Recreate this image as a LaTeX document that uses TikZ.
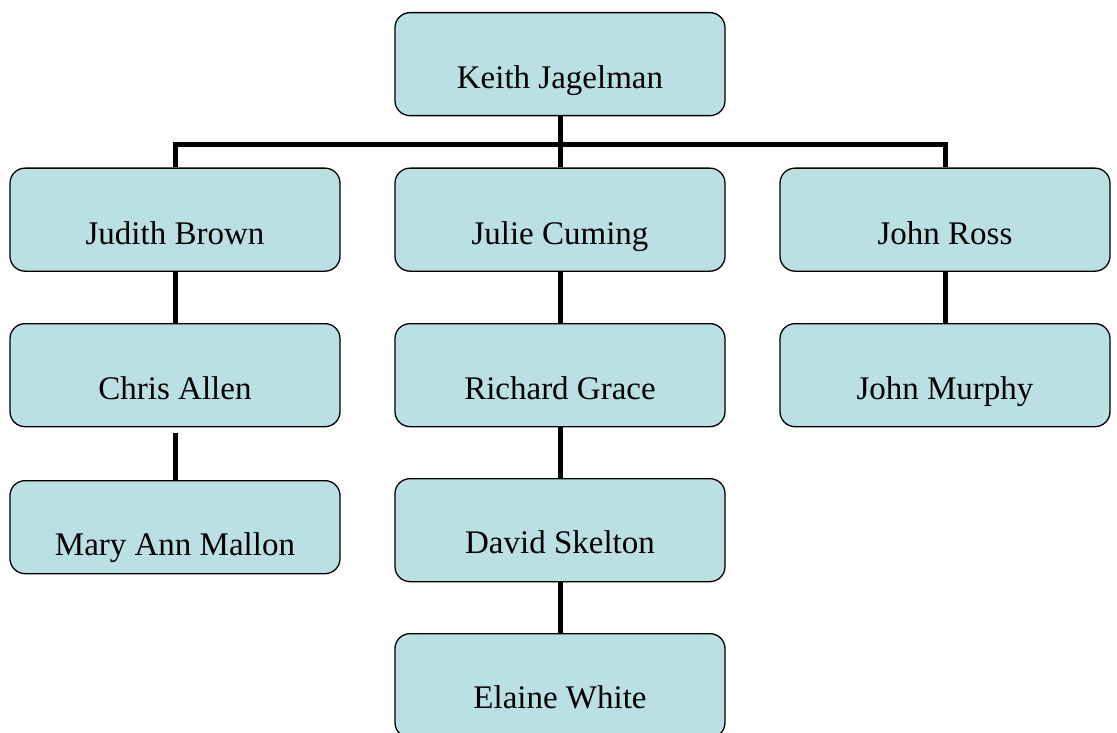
\documentclass[tikz,border=0pt]{standalone}
\usepackage{fontspec}
\setmainfont{Liberation Serif}
\definecolor{boxfill}{RGB}{186,224,227}
\tikzset{
  orgbox/.style={draw=black, line width=1.3pt, rounded corners=15pt, fill=boxfill,
    minimum width=330pt, inner xsep=0pt, inner ysep=0pt,
    text height=76pt, text depth=27pt, anchor=north,
    font=\fontsize{33}{40}\selectfont},
  conn/.style={draw=black, line width=5pt, line join=miter}
}
\begin{document}
\begin{tikzpicture}[x=1pt,y=-1pt]
\useasboundingbox (0,0) rectangle (1117,733);
\node[orgbox] (keith) at (560,12) {Keith Jagelman};
\node[orgbox] (judith) at (175,167.5) {Judith Brown};
\node[orgbox] (julie) at (560,167.5) {Julie Cuming};
\node[orgbox] (ross) at (945,167.5) {John Ross};
\node[orgbox] (chris) at (175,323) {Chris Allen};
\node[orgbox] (richard) at (560,323) {Richard Grace};
\node[orgbox] (murphy) at (945,323) {John Murphy};
\node[orgbox, text height=75pt, text depth=18pt] (mary) at (175,480) {Mary Ann Mallon};
\node[orgbox, text height=75pt, text depth=28pt] (david) at (560,478) {David Skelton};
\node[orgbox, text height=75pt, text depth=29pt] (elaine) at (560,633) {Elaine White};
\coordinate (bar) at (560,144.5);
\draw[conn] (judith.north) |- (bar) -| (ross.north);
\draw[conn] (keith.south) -- (julie.north);
\draw[conn] (judith.south) -- (chris.north);
\draw[conn] ([yshift=-6pt]chris.south) -- (mary.north);
\draw[conn] (julie.south) -- (richard.north);
\draw[conn] (richard.south) -- (david.north);
\draw[conn] (david.south) -- (elaine.north);
\draw[conn] (ross.south) -- (murphy.north);
\end{tikzpicture}
\end{document}
